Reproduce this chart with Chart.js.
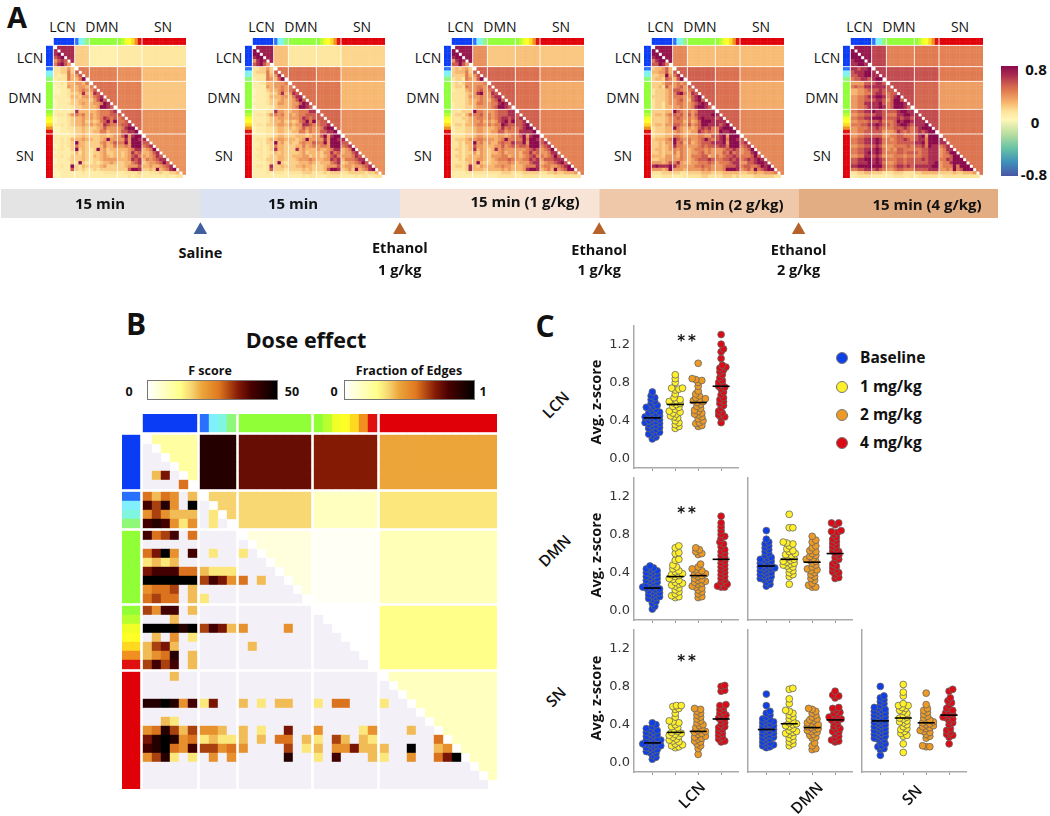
<!DOCTYPE html>
<html>
<head>
<meta charset="utf-8">
<script src="https://cdn.jsdelivr.net/npm/chart.js@4/dist/chart.umd.min.js"></script>
<style>
html, body { margin: 0; padding: 0; background: #fff; }
#page { position: relative; width: 1050px; height: 816px; overflow: hidden; background: #fff; }
canvas { position: absolute; }
.t { position: absolute; white-space: nowrap; color: #111; font-family: "Open Sans", sans-serif; transform: translate(-50%, -50%); line-height: 1; }
.b { font-weight: 700; }
.bar { position: absolute; box-sizing: border-box; }
.dot { position: absolute; width: 12px; height: 12px; border-radius: 50%; box-sizing: border-box; border: 1px solid #777; }
</style>
</head>
<body>
<div id="page"></div>
<script>
// module sizes shared by all the matrices: LCN, two DMN parts, SN and its transition
const moduleSizes = [6, 4, 8, 7, 13];
const stripColors = ['#0a3cf5','#0a3cf5','#0a3cf5','#0a3cf5','#0a3cf5','#0a3cf5',
    '#2a70ff','#80f0ff','#80f5e0','#90f878',
    '#90ff38','#90ff38','#90ff38','#90ff38','#90ff38','#90ff38','#90ff38','#90ff38',
    '#90ff38','#b8ff30','#f0ff28','#ffff28','#ffd820','#f09020','#e01010',
    '#e00008','#e00008','#e00008','#e00008','#e00008','#e00008','#e00008','#e00008','#e00008','#e00008','#e00008','#e00008','#e00008'];

// panel A: each digit of a row is a level, blocks are the mean of each module pair
const zLevels = [0.03, 0.08, 0.14, 0.20, 0.27, 0.35, 0.44, 0.54, 0.66, 0.80];

const baselineRows = ['', '8', '89', '789', '5787', '68975', '223353', '223363 7', '212264 57', '122264 469',
    '112144 5546', '011154 4554 6', '001124 4565 57', '001123 3484 487', '111124 4355 4678', '011113 3444 35797',
    '011123 3454 455698', '011112 3344 4459987', '111112 8444 44566678', '122135 6564 54566677 7',
    '011123 4454 54568767 67', '011123 4453 43467969 667', '112123 4454 54558766 6778', '001122 3343 33457555 56899',
    '001112 3343 34466455 577889', '111112 3343 33344345 5795899', '112124 4454 43345955 5585998 8',
    '112123 9443 33356457 6695999 77', '012123 6443 33346446 5565999 678', '112113 9343 23945344 4445688 4569',
    '011112 4243 23345334 4345867 44578', '112113 3343 24345434 4345786 545687', '011123 3343 23345555 4445878 4656788',
    '011113 2932 23234454 3344678 34556797', '112119 3243 33345333 3345557 445445678',
    '011117 3232 23233333 3337998 3343945689', '001111 1121 11112222 1122223 11222322334', '001111 1111 11111111 1112122 111111121122'];
const salineRows = ['', '9', '99', '899', '5898', '78975', '223353', '233363 7', '222264 58', '122265 479',
    '112244 5556', '111154 5565 6', '011134 4565 67', '011123 3584 587', '111124 4455 4688', '011123 3454 45797',
    '111123 3554 455798', '011112 3444 4569987', '111122 8554 45566688', '122135 6564 54566777 7',
    '111123 4554 55568767 77', '111123 4453 43467969 677', '122133 4554 54558876 6778', '011122 3443 43457565 56899',
    '011122 3443 34466465 577889', '111122 3443 33444345 5795899', '122134 4554 44345955 5585998 8',
    '112133 9453 43356557 6695999 77', '112123 6443 33446456 5665999 678', '122123 8443 33845444 5445688 4569',
    '112122 4343 33345344 4355867 45578', '122123 3443 34445534 4345786 555687', '112133 3443 33455565 4455878 4666788',
    '111123 3932 33344454 3444678 34556797', '122128 3343 33445443 3345557 455455678',
    '111127 3332 33334343 3347998 3453945689', '111121 2221 22223332 2232333 22333332334', '111111 1111 11112122 1112222 111121221122'];
const dose1Rows = ['', '9', '99', '899', '5898', '77975', '343453', '344463 7', '333364 57', '233265 479',
    '232355 5556', '233265 5665 7', '122245 5675 67', '222234 5895 587', '222235 5565 5788', '222234 4565 46797',
    '122234 4665 566898', '122233 4555 5679987', '222333 9665 55677788', '233246 6675 65677788 7',
    '222334 5665 65678878 78', '222234 5564 54578979 778', '233244 5665 65669877 7789', '122233 4554 44568676 67899',
    '122233 4554 45577566 688889', '222233 4554 44455456 6795899', '233345 5665 55456966 6696998 7',
    '223244 9564 54467668 7795999 78', '223234 7554 44557567 6776999 678', '233234 8454 34856555 5556787 5679',
    '223233 5354 34456455 5466867 55688', '233234 4454 35556645 5456786 656797', '223244 4554 34566676 5566878 5777888',
    '222234 4943 34455565 4555788 45667897', '233238 4354 44556554 4456668 566556789',
    '222238 4443 44445454 4458998 4564956799', '111122 2222 22223332 2233333 22334334445', '111111 1111 11122222 1122222 111122222222'];
const dose2Rows = ['', '9', '99', '899', '6899', '77986', '344574', '445574 7', '334495 68', '344376 479',
    '333466 5656', '334275 5675 7', '233345 7765 67', '233345 6896 587', '333345 6665 5789', '233345 5675 47897',
    '233245 5665 567898', '233244 5565 5689987', '333344 9765 65688888', '344356 7675 75788889 8',
    '333345 6765 65689888 78', '333345 6664 64579998 888', '344355 7765 75679988 8789', '233344 9654 54578786 68999',
    '233344 5654 45587676 698899', '233344 6654 55566557 7895999', '344456 9765 65567976 7896998 7',
    '334355 9674 64567778 8895999 78', '334345 8665 55567677 7886999 678', '344345 6565 45666565 5567787 5679',
    '334344 6465 45567565 5576867 56689', '444355 5465 46667745 6567787 666797', '334455 5565 45677787 6677878 6787898',
    '555457 6854 45566676 5666788 55778998', '898889 8655 55667665 5567778 677667989',
    '555459 5554 55556565 5569998 5675967899', '222333 3322 33334443 3344444 33445445556', '111222 1112 22223322 2233323 222233333322'];
const dose4Rows = ['', '9', '99', '999', '8999', '88998', '887889', '788899 8', '778899 88', '677887 899',
    '555577 7887', '676688 8888 7', '445567 7787 77', '445566 7887 677', '556678 8998 6789', '556677 7887 57997',
    '556688 8897 679998', '556678 8898 6799987', '667788 9887 77789988', '556677 7887 66688998 8',
    '667788 9997 77787887 88', '556667 7786 66798998 888', '666778 8987 76789987 8889', '556667 7876 66777876 78999',
    '556677 7775 55687676 787899', '556677 7775 56677666 7895999', '667788 8986 65677876 7886999 8',
    '667788 8986 66677777 8896999 88', '556677 7875 55666676 7786988 678', '667788 8986 56577666 6677888 5688',
    '667789 8986 66677677 7677888 56799', '556688 7875 55666566 6677888 566799', '778899 8987 66677677 7787888 6687999',
    '778889 8986 55677677 7777889 56689999', '889999 9997 66788787 8888899 566696999',
    '667788 7876 55677666 7777888 5565967999', '223344 3332 22333222 3344444 33334334445', '112222 1111 11222112 1222222 122222222222'];

const baselineBlocks = [[.68, .20, .07, .10, .13], [0, .44, .42, .38, .25], [0, 0, .47, .42, .22], [0, 0, 0, .50, .37], [0, 0, 0, 0, .37]];
const salineBlocks = [[.72, .24, .12, .13, .18], [0, .45, .47, .42, .30], [0, 0, .47, .45, .26], [0, 0, 0, .50, .38], [0, 0, 0, 0, .38]];
const dose1Blocks = [[.74, .38, .22, .24, .22], [0, .52, .50, .47, .40], [0, 0, .52, .47, .30], [0, 0, 0, .52, .42], [0, 0, 0, 0, .42]];
const dose2Blocks = [[.75, .40, .25, .26, .25], [0, .52, .52, .47, .38], [0, 0, .52, .47, .30], [0, 0, 0, .52, .40], [0, 0, 0, 0, .40]];
const dose4Blocks = [[.74, .60, .42, .44, .42], [0, .62, .58, .56, .44], [0, 0, .58, .50, .34], [0, 0, 0, .58, .46], [0, 0, 0, 0, .46]];

// panel B: digit level of the F score, "." = not significant
const fLevels = [0, 15, 19, 24, 28, 32, 36, 41, 45, 50];
const fRows = ['', '', '', '', '.26.', '....4', '4243.2', '7583.9', '353222 .1', '787313 .1.',
    '7457.4', '', '4693.7 .1.. 1', '1212', '677744 2111', '999999 5763 4.2',
    '3445.2', '4544.2 1', '5377.2', '...2', '999989 5762 3....3', '.2.3.1', '2562.. .... .2', '2348.2', '5757.2',
    '...2', '', '', '889837 16.. 2.1.22.. 1.44...1', '', '..21',
    '348525 332. 2.1..6.. 3....13 ...2', '689834 1211 2.2.44.2 1.52.21 ......4',
    '789437 5534 3....5.1 2.33622 2..9..23', '3581.1 .3.3 .....8.. 1.7...2 1..3..469', '', '', ''];
const edgeBlocks = [[.20, .90, .75, .70, .42], [0, .34, .33, .13, .30], [0, 0, .07, .02, .15], [0, 0, 0, 0, .25], [0, 0, 0, 0, .13]];

// timeline
const segmentMinutes = [15, 15, 15, 15, 15];
const segmentLabels = ['15 min', '15 min', '15 min (1 g/kg)', '15 min (2 g/kg)', '15 min (4 g/kg)'];
const injectionTimes = [15, 30, 45, 60];
const injectionLabels = ['Saline', 'Ethanol\n1 g/kg', 'Ethanol\n1 g/kg', 'Ethanol\n2 g/kg'];

// panel C: avg. z-score per animal, one array per dose
const doseNames = ['Baseline', '1 mg/kg', '2 mg/kg', '4 mg/kg'];
const zTicks = [0, 0.4, 0.8, 1.2];

const lcnLcnBaseline = [.21,.23,.25,.26,.27,.28,.30,.31,.32,.33,.34,.35,.36,.37,.38,.38,.39,.40,.41,.42,.43,.44,.44,.45,.46,.47,.48,.49,.50,.52,.53,.54,.55,.56,.58,.60,.62,.64,.66,.70];
const lcnLcn1 = [.32,.34,.36,.38,.40,.43,.44,.45,.47,.48,.49,.50,.52,.54,.55,.57,.58,.59,.60,.61,.62,.64,.68,.72,.73,.74,.74,.80,.84,.88];
const lcnLcn2 = [.34,.35,.37,.38,.40,.42,.44,.46,.47,.48,.50,.51,.53,.55,.57,.59,.60,.61,.62,.63,.64,.66,.68,.71,.76,.80,.82,.83,.84,1.0];
const lcnLcn4 = [.38,.43,.44,.46,.48,.50,.53,.56,.58,.60,.62,.64,.67,.70,.73,.75,.76,.78,.80,.82,.85,.88,.91,.93,.95,.96,.98,1.05,1.12,1.15,1.20,1.30];
const lcnLcnMeans = [.43, .57, .59, .76];

const dmnLcnBaseline = [.02,.05,.08,.10,.12,.13,.14,.15,.16,.17,.18,.19,.20,.21,.22,.23,.24,.24,.25,.26,.27,.28,.29,.30,.31,.32,.33,.34,.35,.36,.37,.38,.39,.40,.41,.42,.43,.44,.45,.47];
const dmnLcn1 = [.14,.15,.16,.18,.20,.22,.24,.26,.27,.28,.29,.30,.32,.33,.34,.36,.37,.38,.39,.41,.42,.44,.46,.48,.53,.54,.60,.61,.66,.68];
const dmnLcn2 = [.14,.15,.18,.20,.22,.24,.25,.26,.28,.29,.30,.31,.32,.33,.34,.36,.37,.38,.39,.40,.42,.43,.44,.46,.49,.59,.60,.62,.64,.66];
const dmnLcn4 = [.25,.25,.26,.28,.30,.32,.34,.36,.38,.40,.42,.44,.46,.48,.50,.52,.54,.56,.58,.60,.62,.64,.67,.70,.72,.76,.78,.80,.84,.88,.92,.99];
const dmnLcnMeans = [.24, .36, .37, .54];

const dmnDmnBaseline = [.26,.28,.30,.32,.33,.34,.35,.36,.37,.38,.39,.40,.41,.42,.43,.44,.45,.45,.46,.47,.48,.49,.50,.51,.52,.53,.54,.55,.56,.58,.60,.62,.64,.66,.68,.70,.72,.75,.84];
const dmnDmn1 = [.28,.36,.38,.40,.42,.44,.46,.47,.48,.49,.50,.51,.52,.53,.54,.56,.58,.59,.60,.62,.63,.65,.68,.70,.71,.72,.87,.87,1.01];
const dmnDmn2 = [.25,.25,.27,.29,.32,.34,.36,.38,.40,.42,.43,.44,.46,.48,.50,.52,.53,.54,.55,.57,.58,.60,.62,.63,.66,.68,.72,.74,.78];
const dmnDmn4 = [.34,.35,.38,.40,.41,.43,.45,.47,.49,.52,.54,.56,.58,.60,.62,.63,.65,.67,.69,.71,.73,.75,.77,.80,.82,.83,.84,.90,.92,.92];
const dmnDmnMeans = [.47, .54, .51, .60];

const snLcnBaseline = [.04,.06,.08,.10,.11,.12,.13,.14,.15,.16,.17,.18,.18,.19,.20,.20,.21,.22,.23,.24,.24,.25,.26,.27,.28,.29,.30,.31,.32,.33,.34,.35,.36,.38,.40,.42];
const snLcn1 = [.16,.17,.18,.19,.20,.22,.23,.24,.25,.27,.28,.29,.30,.31,.32,.33,.35,.37,.38,.40,.42,.43,.44,.48,.52,.56,.57,.59,.60,.60];
const snLcn2 = [.09,.15,.18,.20,.22,.23,.25,.26,.27,.28,.30,.31,.32,.33,.34,.36,.37,.39,.40,.42,.44,.46,.48,.50,.52,.54,.56,.57];
const snLcn4 = [.22,.23,.25,.27,.29,.31,.33,.35,.37,.38,.40,.42,.44,.46,.47,.49,.50,.52,.54,.56,.58,.60,.61,.75,.76,.80,.81];
const snLcnMeans = [.21, .32, .33, .46];

const snDmnBaseline = [.16,.17,.18,.19,.20,.21,.22,.24,.25,.26,.27,.28,.29,.30,.31,.32,.33,.34,.35,.36,.37,.38,.39,.40,.41,.42,.43,.44,.45,.46,.48,.50,.52,.54,.60,.72];
const snDmn1 = [.18,.20,.22,.24,.26,.28,.30,.31,.32,.33,.34,.36,.38,.39,.40,.41,.42,.44,.46,.48,.50,.52,.54,.55,.62,.67,.77,.78];
const snDmn2 = [.14,.15,.18,.21,.26,.27,.29,.30,.32,.33,.34,.35,.36,.37,.38,.39,.40,.41,.42,.44,.45,.46,.48,.50,.52,.54,.56,.57];
const snDmn4 = [.22,.23,.24,.26,.28,.30,.32,.33,.35,.36,.38,.40,.42,.44,.45,.46,.47,.48,.50,.52,.53,.55,.57,.58,.68,.70,.71,.75];
const snDmnMeans = [.35, .41, .37, .45];

const snSnBaseline = [.08,.14,.15,.17,.18,.20,.22,.24,.25,.26,.27,.28,.29,.30,.31,.32,.33,.34,.35,.36,.37,.38,.39,.40,.41,.42,.43,.44,.45,.46,.47,.48,.49,.50,.51,.52,.53,.54,.55,.56,.57,.58,.60,.62,.64,.66,.68,.70,.80];
const snSn1 = [.11,.20,.28,.29,.31,.33,.35,.36,.38,.40,.42,.43,.44,.46,.47,.48,.50,.52,.54,.55,.57,.58,.60,.60,.62,.70,.74,.82];
const snSn2 = [.17,.17,.18,.26,.28,.30,.32,.33,.34,.36,.37,.38,.39,.40,.41,.42,.43,.44,.45,.47,.49,.51,.53,.55,.57,.61,.73];
const snSn4 = [.20,.27,.29,.30,.32,.34,.36,.40,.42,.44,.46,.47,.48,.50,.51,.52,.54,.55,.57,.60,.63,.65,.68,.75,.77];
const snSnMeans = [.44, .47, .42, .50];

const page = document.getElementById('page');
const doseColors = ['#0f3fe6', '#fff02a', '#ec9a24', '#dc0a14'];
const zStops = [[-.8, '#4a55a5'], [-.6, '#3f8fbb'], [-.4, '#66c2a5'], [-.2, '#b5dda0'], [.02, '#fff6b8'], [.14, '#fde49a'],
    [.27, '#f7b56e'], [.44, '#e07a50'], [.54, '#cc5a4e'], [.66, '#ab2e50'], [.8, '#8a0a4c']];
const hotStops = [[0, '#ffffff'], [.13, '#ffffc0'], [.25, '#ffff8a'], [.34, '#f7d36f'], [.42, '#eba53a'], [.55, '#e07820'],
    [.70, '#851a05'], [.80, '#4a0000'], [1, '#000000']];

function hexRgb(h) {
    return [1, 3, 5].map(i => parseInt(h.substr(i, 2), 16));
}

function colorAt(stops, v) {
    if (v <= stops[0][0]) return stops[0][1];
    for (let i = 1; i < stops.length; i++) {
        if (v <= stops[i][0]) {
            const t = (v - stops[i - 1][0]) / (stops[i][0] - stops[i - 1][0]);
            const a = hexRgb(stops[i - 1][1]), b = hexRgb(stops[i][1]);
            return 'rgb(' + a.map((c, k) => Math.round(c + (b[k] - c) * t)).join(',') + ')';
        }
    }
    return stops[stops.length - 1][1];
}

function label(text, x, y, size, bold, rot, extra) {
    const el = document.createElement('div');
    el.className = 't' + (bold ? ' b' : '');
    el.textContent = text;
    el.style.left = x + 'px';
    el.style.top = y + 'px';
    el.style.fontSize = size + 'px';
    if (rot) el.style.transform = 'translate(-50%, -50%) rotate(' + rot + 'deg)';
    if (extra) Object.assign(el.style, extra);
    page.appendChild(el);
}

function addCanvas(x, y, w, h) {
    const c = document.createElement('canvas');
    c.width = w;
    c.height = h;
    c.style.left = x + 'px';
    c.style.top = y + 'px';
    page.appendChild(c);
    return c;
}

const moduleOf = [];
moduleSizes.forEach((n, m) => { for (let i = 0; i < n; i++) moduleOf.push(m); });

// square cells through two hidden linear scales, counted in cells
function drawMatrix(x, y, size, gap, blur, rows, blocks, lowerColor, blockColor) {
    const cp = i => i + 0.5 + gap * moduleOf[i];
    const units = 2 + gap + moduleOf.length + 4 * gap;
    const cell = size / units;
    const cells = [], colors = [];
    for (let i = 0; i < moduleOf.length; i++) {
        const row = rows[i].replace(/ /g, '');
        for (let j = 0; j < moduleOf.length; j++) {
            if (i === j) continue;
            cells.push({ x: cp(j), y: cp(i) });
            colors.push(j < i ? lowerColor(row[j]) : blockColor(blocks[moduleOf[i]][moduleOf[j]]));
        }
        [1.5, 0.5].forEach(d => {
            cells.push({ x: cp(i), y: -gap - d });
            colors.push(stripColors[i]);
            cells.push({ x: -gap - d, y: cp(i) });
            colors.push(stripColors[i]);
        });
    }
    const c = addCanvas(x, y, size, size);
    c.style.filter = 'blur(' + blur + 'px)';
    new Chart(c, {
        type: 'scatter',
        data: { datasets: [{ data: cells, backgroundColor: colors, pointBackgroundColor: colors, pointStyle: 'rect',
            pointRadius: (cell + 0.4) / Math.SQRT2, pointBorderWidth: 0, borderWidth: 0, clip: false }] },
        options: {
            animation: false, responsive: false, events: [],
            plugins: { legend: { display: false }, tooltip: { enabled: false } },
            layout: { padding: 0, autoPadding: false },
            scales: {
                x: { display: false, min: -2 - gap, max: moduleOf.length + 4 * gap },
                y: { display: false, min: -2 - gap, max: moduleOf.length + 4 * gap, reverse: true }
            }
        }
    });
}

const zCell = d => colorAt(zStops, zLevels[+d]);
const zBlock = v => colorAt(zStops, v);
const aRows = [baselineRows, salineRows, dose1Rows, dose2Rows, dose4Rows];
const aBlocks = [baselineBlocks, salineBlocks, dose1Blocks, dose2Blocks, dose4Blocks];
const aLeft = [46, 245, 444, 644, 843];
aRows.forEach((rows, k) => {
    const x = aLeft[k];
    drawMatrix(x, 38, 140, 0.4, 0.6, rows, aBlocks[k], zCell, zBlock);
    label('LCN', x + 16.5, 27, 14);
    label('DMN', x + 56, 27, 14);
    label('SN', x + 117, 27, 14);
    label('LCN', x - 16, 58, 14);
    label('DMN', x - 21, 98, 14);
    label('SN', x - 21, 156, 14);
});

const fCell = d => (d === undefined || d === '.') ? '#f3f1f7' : colorAt(hotStops, fLevels[+d] / 50);
drawMatrix(122, 414, 375, 1 / 3, 0.5, fRows, edgeBlocks, fCell, v => colorAt(hotStops, v));

function gradient(stops, dir, lo, hi) {
    return 'linear-gradient(' + dir + ',' + stops.map(s => s[1] + ' ' + ((s[0] - lo) / (hi - lo) * 100) + '%').join(',') + ')';
}

function colorBar(x, y, w, h, bg, border) {
    const el = document.createElement('div');
    el.className = 'bar';
    Object.assign(el.style, { left: x + 'px', top: y + 'px', width: w + 'px', height: h + 'px', background: bg, border: border || 'none' });
    page.appendChild(el);
}

colorBar(1001, 66, 16.5, 110, gradient(zStops, 'to top', -.8, .8));
label('0.8', 1036, 69, 15, true);
label('0', 1035, 122, 15, true);
label('-0.8', 1034, 174, 15, true);

colorBar(147, 380, 131, 20, gradient(hotStops, 'to right', 0, 1), '1px solid #777');
colorBar(344, 380, 131, 20, gradient(hotStops, 'to right', 0, 1), '1px solid #777');
label('F score', 210, 371, 12.5, true);
label('Fraction of Edges', 409, 371, 12.5, true);
label('0', 129, 392, 12.5, true);
label('50', 292, 392, 12.5, true);
label('0', 334, 392, 12.5, true);
label('1', 483, 392, 12.5, true);
label('Dose effect', 306, 340, 21.5, true);

label('A', 17, 16, 29, true);
label('B', 136, 324, 30, true);
label('C', 545, 326, 30, true);

// timeline bar and the injection arrows
const segmentColors = ['#e4e4e4', '#dbe3f3', '#f8e4d7', '#eec8a8', '#e3ad84'];
new Chart(addCanvas(1, 189, 997, 29), {
    type: 'bar',
    data: { labels: ['time'], datasets: segmentMinutes.map((m, i) => ({ data: [m], backgroundColor: segmentColors[i], barPercentage: 1, categoryPercentage: 1, borderWidth: 0 })) },
    options: {
        indexAxis: 'y', animation: false, responsive: false, events: [],
        plugins: { legend: { display: false }, tooltip: { enabled: false } },
        layout: { autoPadding: false },
        scales: {
            x: { display: false, stacked: true, min: 0, max: 75 },
            y: { display: false, stacked: true }
        }
    }
});
const segmentTextX = [100, 293, 525, 729, 927];
const segmentTextY = [203, 203, 201, 204, 204];
segmentLabels.forEach((s, i) => label(s, segmentTextX[i], segmentTextY[i], 15, true));

const injectionColors = ['#3f5f9e', '#b5632a', '#b5632a', '#b5632a'];
new Chart(addCanvas(1, 220, 997, 20), {
    type: 'scatter',
    data: { datasets: [{ data: injectionTimes.map(t => ({ x: t, y: 0.5 })), backgroundColor: injectionColors, pointBackgroundColor: injectionColors,
        pointStyle: 'triangle', pointRadius: 7.8, pointBorderWidth: 0, clip: false }] },
    options: {
        animation: false, responsive: false, events: [],
        plugins: { legend: { display: false }, tooltip: { enabled: false } },
        layout: { autoPadding: false },
        scales: { x: { display: false, min: 0, max: 75 }, y: { display: false, min: 0, max: 1 } }
    }
});
injectionLabels.forEach((s, i) => {
    const lines = s.split('\n');
    const x = injectionTimes[i] / 75 * 997 + 1;
    if (lines.length === 1) label(lines[0], x, 253, 14.5, true);
    else {
        label(lines[0], x, i === 1 ? 248 : 250, 14.5, true);
        label(lines[1], x, 270, 14.5, true);
    }
});

// beeswarm offset of a sorted list, in data units of the x axis
const pxPerZ = 95.6, pxPerDose = 22.9, dotGap = 3.2;
function swarm(values, center) {
    const placed = [];
    return values.map(v => {
        const py = v * pxPerZ;
        for (let k = 0; ; k++) {
            const dx = (k % 2 ? 1 : -1) * Math.ceil(k / 2) * 1.2;
            if (placed.every(p => Math.hypot(p.px - dx, p.py - py) >= dotGap)) {
                placed.push({ px: dx, py: py });
                return { x: center + dx / pxPerDose, y: v };
            }
        }
    });
}

function drawPanel(x, y, groups, means, showZ) {
    const leftSpace = 36;
    const datasets = [{
        data: means.map((m, i) => ({ x: i, y: m })), pointStyle: 'line', pointRadius: 8.5,
        pointBorderColor: '#000', pointBorderWidth: 1.6, showLine: false, clip: false
    }];
    groups.forEach((g, i) => datasets.push({
        data: swarm(g, i), pointRadius: 3.4, pointBackgroundColor: doseColors[i],
        pointBorderColor: '#666', pointBorderWidth: 0.8, showLine: false, clip: false
    }));
    const c = addCanvas(x - leftSpace, y, leftSpace + 105, 151);
    c.style.filter = 'blur(0.4px)';
    new Chart(c, {
        type: 'scatter',
        data: { datasets: datasets },
        options: {
            animation: false, responsive: false, events: [],
            plugins: { legend: { display: false }, tooltip: { enabled: false } },
            layout: { padding: 0, autoPadding: false },
            scales: {
                x: {
                    min: -0.8, max: 3.78, grid: { drawOnChartArea: false, tickLength: 3, color: '#999' },
                    border: { color: '#aaa', width: 1.5 }, ticks: { display: false },
                    afterBuildTicks: s => { s.ticks = doseNames.map((d, i) => ({ value: i })); },
                    afterFit: s => { s.height = 8; s.paddingLeft = 0; s.paddingRight = 0; }
                },
                y: {
                    min: -0.094, max: 1.4, grid: { drawOnChartArea: false, drawTicks: false },
                    border: { color: '#aaa', width: 1.5 },
                    ticks: { display: showZ, padding: 4, color: '#333', font: { family: 'DejaVu Sans', size: 13 }, callback: v => v.toFixed(1) },
                    afterBuildTicks: s => { s.ticks = zTicks.map(v => ({ value: v })); },
                    afterFit: s => { s.width = leftSpace; s.paddingTop = 0; s.paddingBottom = 0; }
                }
            }
        }
    });
}

drawPanel(634, 325, [lcnLcnBaseline, lcnLcn1, lcnLcn2, lcnLcn4], lcnLcnMeans, true);
drawPanel(634, 477, [dmnLcnBaseline, dmnLcn1, dmnLcn2, dmnLcn4], dmnLcnMeans, true);
drawPanel(748, 477, [dmnDmnBaseline, dmnDmn1, dmnDmn2, dmnDmn4], dmnDmnMeans, false);
drawPanel(634, 629, [snLcnBaseline, snLcn1, snLcn2, snLcn4], snLcnMeans, true);
drawPanel(748, 629, [snDmnBaseline, snDmn1, snDmn2, snDmn4], snDmnMeans, false);
drawPanel(862, 629, [snSnBaseline, snSn1, snSn2, snSn4], snSnMeans, false);

[402, 555, 698].forEach(y => label('Avg. z-score', 596, y, 14.5, true, -90));
[[556, 405, 'LCN'], [555, 551, 'DMN'], [556, 697, 'SN']].forEach(r => label(r[2], r[0], r[1], 15.5, false, -45, { fontWeight: 600 }));
[[692, 795, 'LCN'], [807, 798, 'DMN'], [912, 795, 'SN']].forEach(r => label(r[2], r[0], r[1], 15.5, false, -45, { fontWeight: 600 }));
[341, 513, 661].forEach(y => label('**', 688, y, 15, true, 0, { fontFamily: 'DejaVu Sans', letterSpacing: '3px' }));

const legendY = [358, 387, 415, 443];
doseNames.forEach((d, i) => {
    const dot = document.createElement('div');
    dot.className = 'dot';
    Object.assign(dot.style, { left: '836px', top: (legendY[i] - 6) + 'px', background: doseColors[i] });
    page.appendChild(dot);
    label(d, 860, legendY[i], 15.5, true, 0, { transform: 'translate(0, -50%)' });
});
</script>
</body>
</html>
